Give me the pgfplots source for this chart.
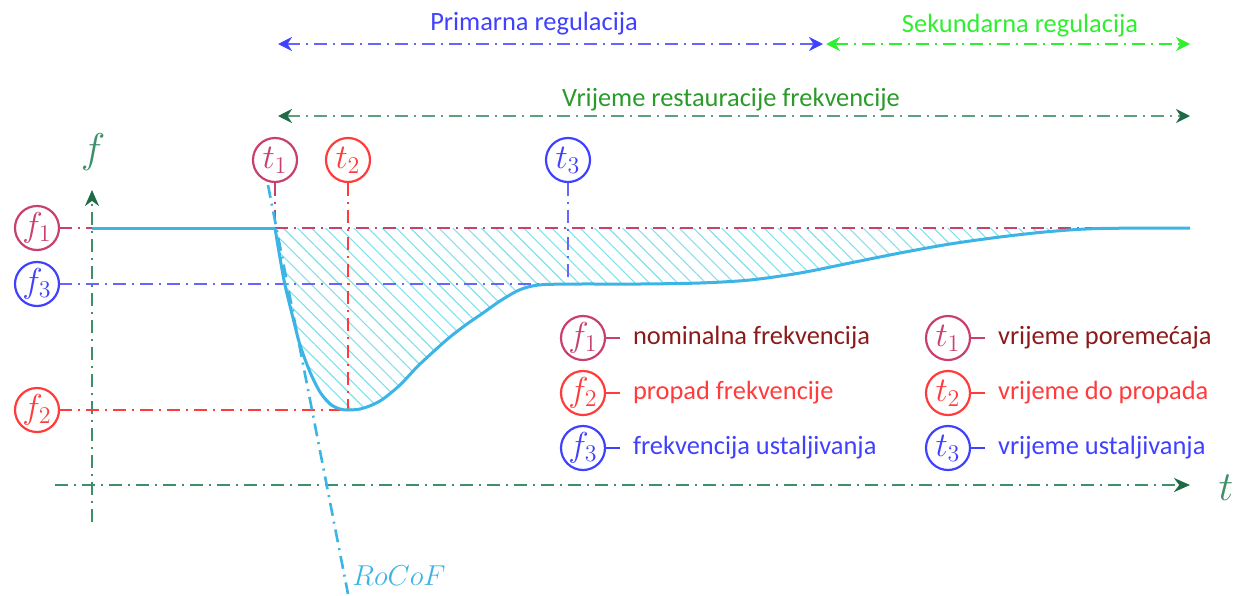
\documentclass[border=0pt]{standalone}
\usepackage{pgfplots}
\pgfplotsset{compat=1.18}
\usepackage{fontspec}
\setmainfont{Carlito}
\usetikzlibrary{arrows.meta,patterns.meta}
\definecolor{ccrim}{HTML}{C8406E}
\definecolor{cred}{HTML}{FF3B3B}
\definecolor{cblue}{HTML}{4040FF}
\definecolor{ccurve}{HTML}{3CB4E6}
\definecolor{chatch}{HTML}{80E0EE}
\definecolor{caxis}{HTML}{3E9068}
\definecolor{caxtip}{HTML}{1E6B45}
\definecolor{cgreen}{HTML}{30EE30}
\definecolor{cdgreen}{HTML}{2A9A2A}
\definecolor{cdred}{HTML}{8B1A1A}
\tikzset{dd/.style={line width=1.3pt, dash pattern=on 6.5pt off 3pt on 1pt off 3pt}}
\newcommand{\lt}{\fontsize{13.2}{15}\selectfont}
\newcommand{\mt}{\fontsize{18}{20}\selectfont}

\begin{document}
\begin{tikzpicture}
\begin{axis}[
    scale only axis, width=621pt, height=297pt,
    xmin=0, xmax=1242, ymin=0, ymax=594, y dir=reverse,
    hide axis, clip=false,
]
\path (axis cs:0,0) rectangle (axis cs:1242,594);

% hatched area between f1 and the curve
\addplot[draw=none, pattern={Lines[angle=-45,distance=5pt,line width=0.55pt]}, pattern color=chatch, smooth, tension=0.5]
coordinates {(275,228)(280,258)(285,285)(293,318)(300,345)(310,372)(320,392)(330,404)(340,409)(348,410)(360,409)(372,405)(383,399)(400,385)(417,367)(433,352)(450,337)(467,324)(483,313)(500,301)(517,291)(530,286.5)(545,284.5)(580,284)(640,284)(700,283)(750,280)(800,273)(850,263)(900,253)(950,244)(1000,237)(1050,231.5)(1100,228.5)(1190,228)} -- cycle;

% axes
\addplot[caxis, dd, -{Stealth[length=8pt,width=7pt,color=caxtip]}] coordinates {(55,485)(1190,485)};
\addplot[caxis, dd, -{Stealth[length=8pt,width=7pt,color=caxtip]}] coordinates {(92,522)(92,190)};
\node[caxis] at (axis cs:93,152) {\fontsize{21}{24}\selectfont$f$};
\node[caxis] at (axis cs:1226,488) {\fontsize{21}{24}\selectfont$t$};

% reference lines
\addplot[ccrim, dd] coordinates {(59,228)(1190,228)};
\addplot[cblue!80, dd] coordinates {(59,284)(568,284)};
\addplot[cred, dd] coordinates {(59,410)(348,410)};
\addplot[ccrim, dd] coordinates {(275,183)(275,228)};
\addplot[cred, dd] coordinates {(348,183)(348,410)};
\addplot[cblue!80, dd] coordinates {(568,183)(568,284)};

% RoCoF tangent
\addplot[ccurve, dd] coordinates {(268,185)(348,594)};
\node[ccurve] at (axis cs:399,576) {\fontsize{14}{16}\selectfont$RoCoF$};

% frequency curve
\addplot[ccurve, line width=1.5pt] coordinates {(92,228)(275,228)};
\addplot[ccurve, line width=1.5pt, smooth, tension=0.5]
coordinates {(275,228)(280,258)(285,285)(293,318)(300,345)(310,372)(320,392)(330,404)(340,409)(348,410)(360,409)(372,405)(383,399)(400,385)(417,367)(433,352)(450,337)(467,324)(483,313)(500,301)(517,291)(530,286.5)(545,284.5)(580,284)(640,284)(700,283)(750,280)(800,273)(850,263)(900,253)(950,244)(1000,237)(1050,231.5)(1100,228.5)(1190,228)};

% top arrows
\addplot[cblue!80, dd, {Stealth[length=7pt,width=7pt,color=cblue]}-{Stealth[length=7pt,width=7pt,color=cblue]}] coordinates {(278,44)(823,44)};
\addplot[cgreen, dd, {Stealth[length=7pt,width=7pt]}-{Stealth[length=7pt,width=7pt]}] coordinates {(826,44)(1190,44)};
\addplot[caxis!85, dd, {Stealth[length=7pt,width=7pt,color=caxtip]}-{Stealth[length=7pt,width=7pt,color=caxtip]}] coordinates {(278,116)(1190,116)};
\node[cblue] at (axis cs:534,24) {\lt Primarna regulacija};
\node[cgreen] at (axis cs:1020,26) {\lt Sekundarna regulacija};
\node[cdgreen] at (axis cs:731,100) {\lt Vrijeme restauracije frekvencije};

% circles
\addplot[ccrim, only marks, mark=o, mark size=11pt, line width=1.1pt] coordinates {(37,228)(275,160)(583,338)(948,338)};
\addplot[cred, only marks, mark=o, mark size=11pt, line width=1.1pt] coordinates {(37,410)(348,160)(583,393)(948,393)};
\addplot[cblue, only marks, mark=o, mark size=11pt, line width=1.1pt] coordinates {(37,284)(568,160)(583,448)(948,448)};
\node[ccrim] at (axis cs:37,228) {\mt$f_1$};
\node[cblue] at (axis cs:37,284) {\mt$f_3$};
\node[cred] at (axis cs:37,410) {\mt$f_2$};
\node[ccrim] at (axis cs:275,160) {\mt$t_1$};
\node[cred] at (axis cs:348,160) {\mt$t_2$};
\node[cblue] at (axis cs:568,160) {\mt$t_3$};
\node[ccrim] at (axis cs:583,338) {\mt$f_1$};
\node[cred] at (axis cs:583,393) {\mt$f_2$};
\node[cblue] at (axis cs:583,448) {\mt$f_3$};
\node[ccrim] at (axis cs:948,338) {\mt$t_1$};
\node[cred] at (axis cs:948,393) {\mt$t_2$};
\node[cblue] at (axis cs:948,448) {\mt$t_3$};

% legend connectors
\addplot[ccrim, line width=1pt] coordinates {(605,338)(620,338)};
\addplot[cred, line width=1pt] coordinates {(605,393)(620,393)};
\addplot[cblue, line width=1pt] coordinates {(605,448)(620,448)};
\addplot[ccrim, line width=1pt] coordinates {(970,338)(985,338)};
\addplot[cred, line width=1pt] coordinates {(970,393)(985,393)};
\addplot[cblue, line width=1pt] coordinates {(970,448)(985,448)};
\node[cdred, anchor=west] at (axis cs:626,338) {\lt nominalna frekvencija};
\node[cred, anchor=west] at (axis cs:626,393) {\lt propad frekvencije};
\node[cblue, anchor=west] at (axis cs:626,448) {\lt frekvencija ustaljivanja};
\node[cdred, anchor=west] at (axis cs:991,338) {\lt vrijeme poremećaja};
\node[cred, anchor=west] at (axis cs:991,393) {\lt vrijeme do propada};
\node[cblue, anchor=west] at (axis cs:991,448) {\lt vrijeme ustaljivanja};
\end{axis}
\end{tikzpicture}
\end{document}
